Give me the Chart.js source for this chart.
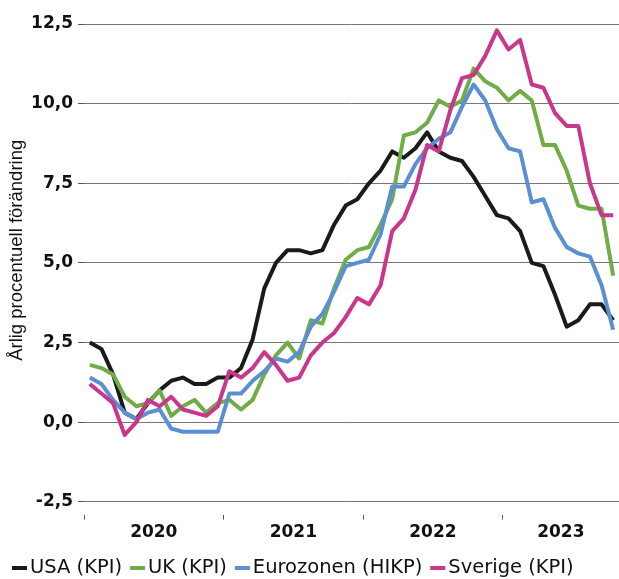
<!DOCTYPE html>
<html lang="sv">
<head>
<meta charset="UTF-8">
<title>Inflation USA, UK, Eurozonen och Sverige</title>
<script src="https://cdn.jsdelivr.net/npm/chart.js"></script>
<style>
  html, body { margin: 0; padding: 0; background: #fff; }
  #wrap { width: 619px; height: 579px; position: relative; }
</style>
</head>
<body>
<div id="wrap"><canvas id="chart"></canvas></div>
<script>
// monthly, jan 2020 - okt 2023
const years = ['2020', '2021', '2022', '2023'];
const usa = [2.5, 2.3, 1.5, 0.3, 0.1, 0.6, 1.0, 1.3, 1.4, 1.2, 1.2, 1.4,
             1.4, 1.7, 2.6, 4.2, 5.0, 5.4, 5.4, 5.3, 5.4, 6.2, 6.8, 7.0,
             7.5, 7.9, 8.5, 8.3, 8.6, 9.1, 8.5, 8.3, 8.2, 7.7, 7.1, 6.5,
             6.4, 6.0, 5.0, 4.9, 4.0, 3.0, 3.2, 3.7, 3.7, 3.2];
const uk = [1.8, 1.7, 1.5, 0.8, 0.5, 0.6, 1.0, 0.2, 0.5, 0.7, 0.3, 0.6,
            0.7, 0.4, 0.7, 1.5, 2.1, 2.5, 2.0, 3.2, 3.1, 4.2, 5.1, 5.4,
            5.5, 6.2, 7.0, 9.0, 9.1, 9.4, 10.1, 9.9, 10.1, 11.1, 10.7, 10.5,
            10.1, 10.4, 10.1, 8.7, 8.7, 7.9, 6.8, 6.7, 6.7, 4.6];
const euro = [1.4, 1.2, 0.7, 0.3, 0.1, 0.3, 0.4, -0.2, -0.3, -0.3, -0.3, -0.3,
              0.9, 0.9, 1.3, 1.6, 2.0, 1.9, 2.2, 3.0, 3.4, 4.1, 4.9, 5.0,
              5.1, 5.9, 7.4, 7.4, 8.1, 8.6, 8.9, 9.1, 9.9, 10.6, 10.1, 9.2,
              8.6, 8.5, 6.9, 7.0, 6.1, 5.5, 5.3, 5.2, 4.3, 2.9];
const sverige = [1.2, 0.9, 0.6, -0.4, 0.0, 0.7, 0.5, 0.8, 0.4, 0.3, 0.2, 0.5,
                 1.6, 1.4, 1.7, 2.2, 1.8, 1.3, 1.4, 2.1, 2.5, 2.8, 3.3, 3.9,
                 3.7, 4.3, 6.0, 6.4, 7.3, 8.7, 8.5, 9.8, 10.8, 10.9, 11.5, 12.3,
                 11.7, 12.0, 10.6, 10.5, 9.7, 9.3, 9.3, 7.5, 6.5, 6.5];
const seriesNames = ['USA (KPI)', 'UK (KPI)', 'Eurozonen (HIKP)', 'Sverige (KPI)'];
const seriesColors = ['#1a1a1a', '#70ad47', '#5b8fd3', '#c8378b'];
const yTicks = [-2.5, 0, 2.5, 5, 7.5, 10, 12.5];
const yTitle = 'Årlig procentuell förändring';

const nMonths = usa.length;

// year axis: tick marks on year boundaries, label in the middle of each year's months
const yearTicks = [];
const yearLabelAt = {};
years.forEach((y, k) => {
  const first = k * 12;
  const last = Math.min(first + 11, nMonths - 1);
  yearTicks.push(first - 0.5);
  yearTicks.push((first + last) / 2);
  yearLabelAt[(first + last) / 2] = y;
});

const toPoints = arr => arr.map((v, i) => ({ x: i, y: v }));

const axisTitle = {
  id: 'axisTitle',
  afterDraw(chart) {
    const { ctx, chartArea } = chart;
    ctx.save();
    ctx.translate(17, (chartArea.top + chartArea.bottom) / 2 - 19);
    ctx.rotate(-Math.PI / 2);
    ctx.font = '18.5px "Liberation Sans", Arial, sans-serif';
    ctx.fillStyle = '#111';
    ctx.textAlign = 'center';
    ctx.textBaseline = 'middle';
    ctx.fillText(yTitle, 0, 0);
    ctx.restore();
  }
};

const bottomLegend = {
  id: 'bottomLegend',
  afterDraw(chart) {
    const ctx = chart.ctx;
    const y = chart.height - 11;
    let x = 12;
    ctx.save();
    ctx.font = '19.5px "DejaVu Sans", sans-serif';
    ctx.textBaseline = 'middle';
    chart.data.datasets.forEach(ds => {
      ctx.fillStyle = ds.borderColor;
      ctx.fillRect(x, y - 2, 15, 4);
      x += 18;
      ctx.fillStyle = '#111';
      ctx.fillText(ds.label, x, y);
      x += ctx.measureText(ds.label).width + 8;
    });
    ctx.restore();
  }
};

const seriesData = [usa, uk, euro, sverige];

new Chart(document.getElementById('chart'), {
  type: 'line',
  data: {
    datasets: seriesData.map((arr, i) => ({
      label: seriesNames[i],
      data: toPoints(arr),
      borderColor: seriesColors[i],
      backgroundColor: seriesColors[i],
      borderWidth: 4,
      borderJoinStyle: 'round',
      pointRadius: 0,
      tension: 0,
      order: seriesData.length - i
    }))
  },
  options: {
    responsive: true,
    maintainAspectRatio: false,
    animation: false,
    layout: { padding: { top: 24, bottom: 33, left: 0, right: 0 } },
    plugins: {
      legend: { display: false },
      tooltip: { enabled: false }
    },
    scales: {
      x: {
        type: 'linear',
        min: -0.5,
        max: nMonths - 0.5,
        afterBuildTicks: scale => {
          scale.ticks = yearTicks.map(v => ({ value: v }));
        },
        border: { display: false },
        grid: {
          drawOnChartArea: false,
          drawTicks: true,
          tickLength: 5,
          tickWidth: 1,
          tickColor: ctx => (yearLabelAt[ctx.tick.value] ? 'rgba(0,0,0,0)' : '#555')
        },
        ticks: {
          autoSkip: false,
          maxRotation: 0,
          padding: 3,
          color: '#111',
          font: { family: '"DejaVu Sans", sans-serif', size: 17, weight: 'bold' },
          callback: value => yearLabelAt[value] || ''
        }
      },
      y: {
        min: -2.9,
        max: 12.5,
        afterBuildTicks: scale => {
          scale.ticks = yTicks.map(v => ({ value: v }));
        },
        afterFit: scale => { scale.width = 84; },
        border: { display: false },
        grid: {
          color: '#767676',
          lineWidth: 1,
          tickLength: 6,
          tickColor: '#555'
        },
        ticks: {
          padding: 5,
          color: '#111',
          font: { family: '"DejaVu Sans", sans-serif', size: 17, weight: 'bold' },
          callback: v => v.toFixed(1).replace('.', ',')
        }
      }
    }
  },
  plugins: [axisTitle, bottomLegend]
});
</script>
</body>
</html>
